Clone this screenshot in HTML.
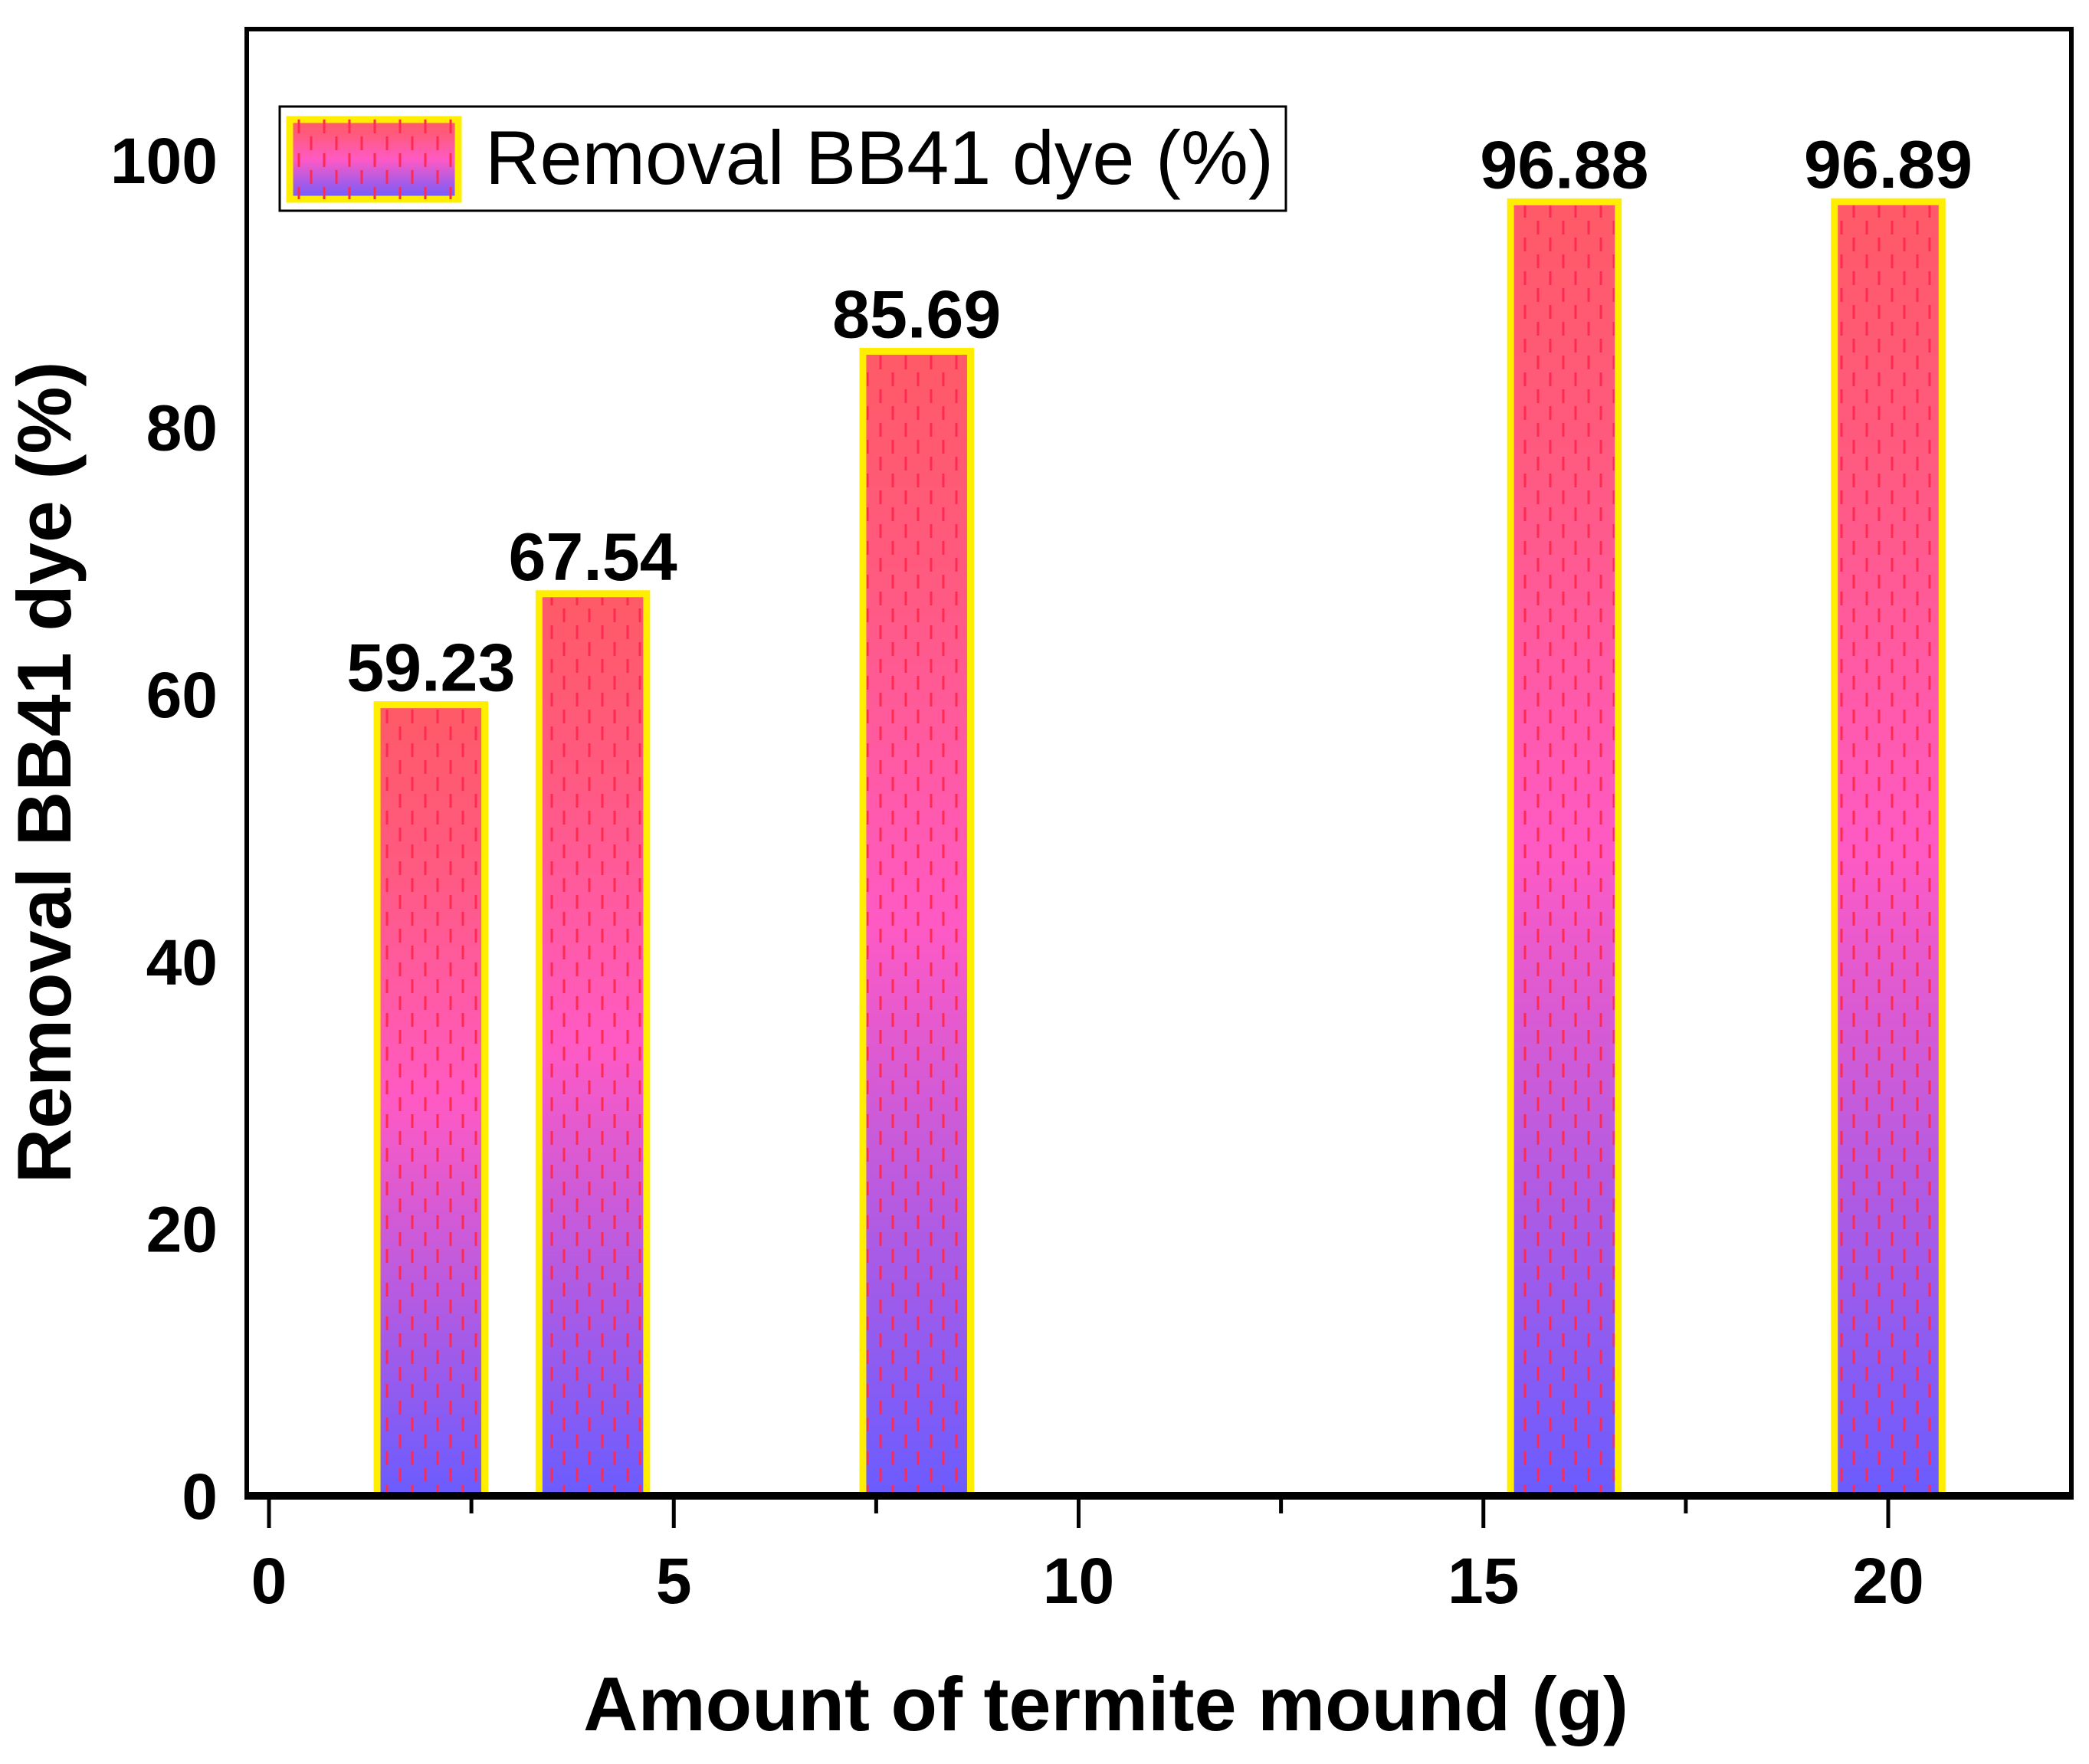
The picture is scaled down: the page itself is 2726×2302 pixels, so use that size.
<!DOCTYPE html>
<html><head><meta charset="utf-8"><style>
html,body{margin:0;padding:0;background:#fff;}
svg{display:block;font-family:"Liberation Sans",Arial,sans-serif;}
</style></head><body>
<svg id="chart" width="2726" height="2302" viewBox="0 0 2726 2302" xmlns="http://www.w3.org/2000/svg">
<defs>
<linearGradient id="barGrad" x1="0" y1="0" x2="0" y2="1">
<stop offset="0" stop-color="#ff5a66"/>
<stop offset="0.2" stop-color="#ff5a80"/>
<stop offset="0.5" stop-color="#ff5ac4"/>
<stop offset="1" stop-color="#6a5cff"/>
</linearGradient>
<pattern id="dash" width="33" height="44" patternUnits="userSpaceOnUse">
<line x1="10" y1="2" x2="10" y2="20" stroke="#ff2a50" stroke-width="3"/>
<line x1="27" y1="24" x2="27" y2="42" stroke="#ff2a50" stroke-width="3"/>
</pattern>
</defs>
<g id="bars"></g>
<g id="labels"></g>
<rect x="322" y="38" width="2381" height="1914" fill="none" stroke="#000" stroke-width="6"/>
<line x1="319" y1="1952" x2="2706" y2="1952" stroke="#000" stroke-width="10"/>
<g id="xticks"></g>
<g id="yticks"></g>
<text x="1443" y="2258" font-size="99" font-weight="bold" text-anchor="middle">Amount of termite mound (g)</text>
<text transform="translate(92,1008) rotate(-90)" font-size="99" font-weight="bold" text-anchor="middle">Removal BB41 dye (%)</text>
<g>
<rect x="365" y="139" width="1313" height="136" fill="#fff" stroke="#000" stroke-width="3"/>
<rect x="378" y="156" width="220" height="104" fill="url(#barGrad)" stroke="#ffee00" stroke-width="9"/>
<rect x="378" y="156" width="220" height="104" fill="url(#dash)"/>
<text x="633" y="240" font-size="99">Removal BB41 dye (%)</text>
</g>
</svg>
<script>
const categories = [2, 4, 8, 16, 20];
const values = [59.23, 67.54, 85.69, 96.88, 96.89];
const valueLabels = ["59.23", "67.54", "85.69", "96.88", "96.89"];
const xTicks = [0, 5, 10, 15, 20];
const xMinorTicks = [2.5, 7.5, 12.5, 17.5];
const yTicks = [0, 20, 40, 60, 80, 100];

const NS = "http://www.w3.org/2000/svg";
const xS = v => 351 + v * 105.65;
const yS = v => 1952 - v * 17.43;
const bw = 1.33 * 105.65;
function mk(tag, attrs, parent){const e=document.createElementNS(NS,tag);for(const k in attrs)e.setAttribute(k,attrs[k]);parent.appendChild(e);return e;}
const gb=document.getElementById('bars'), gl=document.getElementById('labels');
categories.forEach((c,i)=>{
  const x=xS(c)-bw/2, y=yS(values[i]), h=yS(0)-y;
  const r=mk('rect',{x:x,y:y,width:bw,height:h,fill:'url(#barGrad)',stroke:'#ffee00','stroke-width':9},gb);
  
  
  const p=mk('rect',{x:x+5,y:y+5,width:bw-10,height:h-5,fill:'url(#dash)'},gb);
  
  
  const t=mk('text',{x:xS(c),y:y-18,'font-size':88,'font-weight':'bold','text-anchor':'middle'},gl);
  
  
  t.textContent=valueLabels[i];
});
const gx=document.getElementById('xticks');
xTicks.forEach(v=>{
  const l=mk('line',{x1:xS(v),y1:1952,x2:xS(v),y2:1994,stroke:'#000','stroke-width':5},gx);
  
  
  const t=mk('text',{x:xS(v),y:2092,'font-size':84,'font-weight':'bold','text-anchor':'middle'},gx);
  
  
  t.textContent=v;
});
xMinorTicks.forEach(v=>{
  const l=mk('line',{x1:xS(v),y1:1952,x2:xS(v),y2:1975,stroke:'#000','stroke-width':5},gx);
  
  
});
const gy=document.getElementById('yticks');
yTicks.forEach(v=>{
  const t=mk('text',{x:284,y:yS(v)+30,'font-size':84,'font-weight':'bold','text-anchor':'end'},gy);
  
  
  t.textContent=v;
});
</script>
</body></html>
